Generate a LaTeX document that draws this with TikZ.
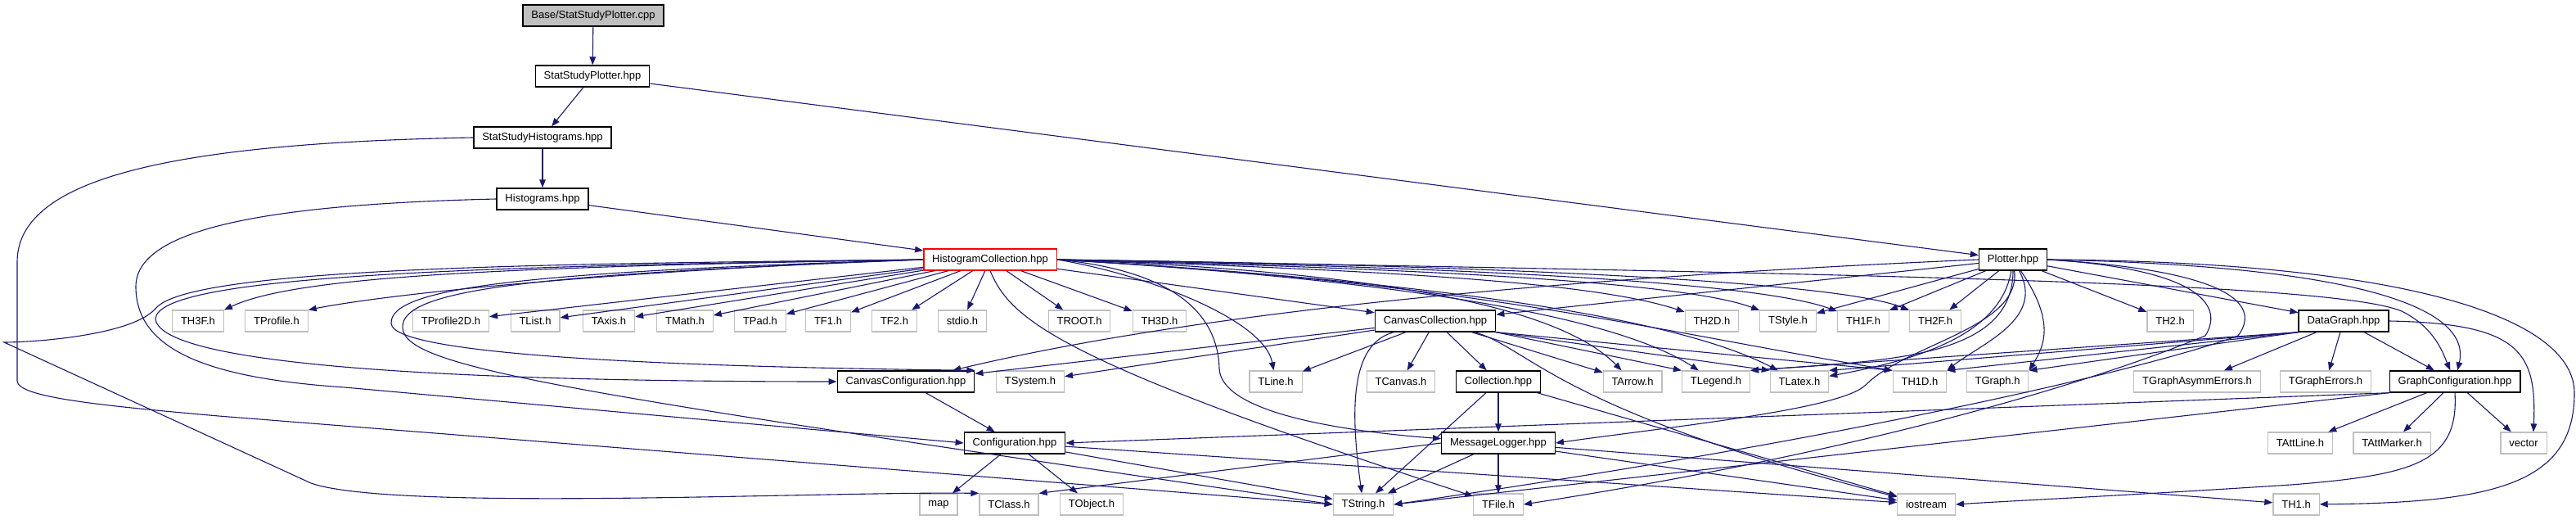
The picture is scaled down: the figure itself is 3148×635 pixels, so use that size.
\documentclass[tikz,border=0pt]{standalone}
\usepackage{fontspec}
\setmainfont{Liberation Sans}
\usepackage{tikz}
\usetikzlibrary{arrows.meta}
\definecolor{inkblue}{HTML}{191970}
\definecolor{boxgray}{HTML}{BFBFBF}
\definecolor{mainred}{HTML}{FF0000}
\tikzset{
  hdr/.style={draw=black,fill=white,line width=0.7pt,inner xsep=5.2pt,inner ysep=0pt,minimum height=13pt,font=\fontsize{6.5}{7.5}\selectfont},
  ext/.style={hdr,draw=boxgray,line width=0.6pt},
  src/.style={hdr,fill=boxgray},
  cur/.style={hdr,draw=mainred},
  inc/.style={inkblue,line width=0.55pt,-{Triangle[length=5pt,width=3.8pt]}}
}
\begin{document}
\begin{tikzpicture}[x=0.5pt,y=-0.5pt]
\useasboundingbox (0,0) rectangle (3148,635);
\node[src] (root) at (725,19) {Base/StatStudyPlotter.cpp};
\node[hdr] (ssplot) at (724,93) {StatStudyPlotter.hpp};
\node[hdr] (sshist) at (663,168) {StatStudyHistograms.hpp};
\node[hdr] (hist) at (663,243) {Histograms.hpp};
\node[cur] (hcoll) at (1210,317) {HistogramCollection.hpp};
\node[hdr] (plotter) at (2460,317) {Plotter.hpp};
\node[ext] (th3f) at (242,392) {TH3F.h}; \node[ext] (tprof) at (338,392) {TProfile.h};
\node[ext] (tprof2d) at (551,392) {TProfile2D.h}; \node[ext] (tlist) at (654,392) {TList.h};
\node[ext] (taxis) at (744,392) {TAxis.h}; \node[ext] (tmath) at (837,392) {TMath.h};
\node[ext] (tpad) at (929,392) {TPad.h}; \node[ext] (tfone) at (1012,392) {TF1.h};
\node[ext] (tftwo) at (1093,392) {TF2.h}; \node[ext] (stdio) at (1176,392) {stdio.h};
\node[ext] (troot) at (1319,392) {TROOT.h}; \node[ext] (th3d) at (1417,392) {TH3D.h};
\node[hdr] (ccoll) at (1754,392) {CanvasCollection.hpp};
\node[ext] (th2d) at (2092,392) {TH2D.h}; \node[ext] (tstyle) at (2185,392) {TStyle.h};
\node[ext] (th1f) at (2277,392) {TH1F.h}; \node[ext] (th2f) at (2365,392) {TH2F.h};
\node[ext] (th2) at (2652,392) {TH2.h};
\node[hdr] (dgraph) at (2864,392) {DataGraph.hpp};
\node[hdr] (cconf) at (1107,466) {CanvasConfiguration.hpp};
\node[ext] (tsys) at (1259,466) {TSystem.h}; \node[ext] (tline) at (1559,466) {TLine.h};
\node[ext] (tcanv) at (1712,466) {TCanvas.h};
\node[hdr] (coll) at (1831,466) {Collection.hpp};
\node[ext] (tarrow) at (1995,466) {TArrow.h}; \node[ext] (tlegend) at (2097,466) {TLegend.h};
\node[ext] (tlatex) at (2199,466) {TLatex.h}; \node[ext] (th1d) at (2346,466) {TH1D.h};
\node[ext] (tgraph) at (2441,466) {TGraph.h}; \node[ext] (tgae) at (2685,466) {TGraphAsymmErrors.h};
\node[ext] (tgerr) at (2842,466) {TGraphErrors.h};
\node[hdr] (gconf) at (3000,466) {GraphConfiguration.hpp};
\node[hdr] (conf) at (1240,541) {Configuration.hpp};
\node[hdr] (msglog) at (1831,541) {MessageLogger.hpp};
\node[ext] (tattl) at (2811,541) {TAttLine.h}; \node[ext] (tattm) at (2923,541) {TAttMarker.h};
\node[ext] (vector) at (3084,541) {vector};
\node[ext] (map) at (1147,616) {map}; \node[ext] (tclass) at (1233,616) {TClass.h};
\node[ext] (tobj) at (1334,616) {TObject.h}; \node[ext] (tstr) at (1666,616) {TString.h};
\node[ext] (tfile) at (1831,616) {TFile.h}; \node[ext] (iostr) at (2354,616) {iostream};
\node[ext] (th1) at (2806,616) {TH1.h};
\draw[inc] (root) -- (ssplot); \draw[inc] (ssplot) -- (sshist); \draw[inc] (ssplot) -- (plotter);
\draw[inc] (sshist) -- (hist); \draw[inc] (hist) -- (hcoll);
\draw[inc] (sshist.west) .. controls (200,175) and (21,220) .. (21,320) -- (21,465) .. controls (21,485) and (120,495) .. (267,508) -- (tstr.west);
\draw[inc] (hist.west) .. controls (300,250) and (166,285) .. (166,350) .. controls (166,430) and (260,462) .. (421,473) -- (conf.west);
\draw[inc] (hcoll.west) .. controls (600,326) and (360,338) .. (th3f.north east);
\draw[inc] (hcoll.west) .. controls (760,330) and (480,358) .. (tprof.north east);
\draw[inc] (hcoll) -- (tprof2d); \draw[inc] (hcoll) -- (tlist); \draw[inc] (hcoll) -- (taxis);
\draw[inc] (hcoll) -- (tmath); \draw[inc] (hcoll) -- (tpad); \draw[inc] (hcoll) -- (tfone);
\draw[inc] (hcoll) -- (tftwo); \draw[inc] (hcoll) -- (stdio); \draw[inc] (hcoll) -- (troot);
\draw[inc] (hcoll) -- (th3d); \draw[inc] (hcoll) -- (ccoll);
\draw[inc] (hcoll.west) .. controls (600,325) and (190,335) .. (190,390) .. controls (200,450) and (600,466) .. (cconf.west);
\draw[inc] (hcoll.west) .. controls (700,322) and (230,325) .. (190,377) .. controls (160,410) and (40,418) .. (5,418) -- (380,590) .. controls (480,625) and (1000,600) .. (tclass.north west);
\draw[inc] (hcoll.west) .. controls (650,332) and (476,350) .. (478,395) .. controls (480,438) and (900,449) .. (cconf.north east);
\draw[inc] (hcoll.west) .. controls (660,335) and (490,352) .. (492,400) .. controls (494,450) and (700,480) .. (tstr.west);
\draw[inc] (hcoll.east) .. controls (1700,330) and (1950,345) .. (th2d);
\draw[inc] (hcoll.east) .. controls (1750,328) and (2060,345) .. (tstyle);
\draw[inc] (hcoll.east) .. controls (1800,326) and (2150,345) .. (th1f);
\draw[inc] (hcoll.east) .. controls (1850,324) and (2250,345) .. (th2f);
\draw[inc] (hcoll.east) .. controls (1400,335) and (1545,390) .. (tline);
\draw[inc] (hcoll.east) .. controls (1430,330) and (1488,380) .. (1490,450) .. controls (1492,500) and (1620,525) .. (msglog);
\draw[inc] (hcoll.south) .. controls (1235,390) and (1290,440) .. (tfile);
\draw[inc] (hcoll.east) .. controls (1800,335) and (1930,400) .. (tarrow);
\draw[inc] (hcoll.east) .. controls (1850,350) and (2010,410) .. (tlegend);
\draw[inc] (hcoll.east) .. controls (1950,355) and (2110,420) .. (tlatex);
\draw[inc] (hcoll.east) .. controls (1800,345) and (2000,400) .. (th1d.north west);
\draw[inc] (hcoll.east) .. controls (2300,335) and (2850,345) .. (2935,380) .. controls (2975,400) and (2985,430) .. (gconf);
\draw[inc] (ccoll) -- (cconf); \draw[inc] (ccoll) -- (tsys); \draw[inc] (ccoll) -- (tline);
\draw[inc] (ccoll) -- (tcanv); \draw[inc] (ccoll) -- (coll); \draw[inc] (ccoll) -- (tarrow);
\draw[inc] (ccoll.south east) -- (tlegend.north west); \draw[inc] (ccoll.south east) -- (tlatex.north west);
\draw[inc] (ccoll.south east) -- (th1d.north west);
\draw[inc] (ccoll) .. controls (1650,420) and (1650,500) .. (tstr);
\draw[inc] (ccoll) .. controls (1870,425) and (1900,500) .. (iostr);
\draw[inc] (plotter) -- (th2f); \draw[inc] (plotter) -- (th1f); \draw[inc] (plotter) -- (tstyle);
\draw[inc] (plotter) -- (ccoll); \draw[inc] (plotter) -- (th2); \draw[inc] (plotter) -- (dgraph);
\draw[inc] (plotter.west) .. controls (2000,335) and (1500,372) .. (cconf);
\draw[inc] (plotter) .. controls (2445,410) and (2340,440) .. (tlatex);
\draw[inc] (plotter) .. controls (2460,440) and (2300,440) .. (tlegend.north east);
\draw[inc] (plotter) .. controls (2470,400) and (2330,420) .. (2280,470) .. controls (2250,500) and (2050,520) .. (msglog.east);
\draw[inc] (plotter) .. controls (2500,390) and (2420,420) .. (th1d.north east);
\draw[inc] (plotter) .. controls (2510,390) and (2500,420) .. (tgraph.north east);
\draw[inc] (plotter.east) .. controls (2720,330) and (2765,370) .. (2735,410) .. controls (2640,445) and (2300,530) .. (tstr.east);
\draw[inc] (plotter.east) .. controls (2680,328) and (2720,370) .. (2695,410) .. controls (2610,445) and (2350,540) .. (tfile.east);
\draw[inc] (plotter.east) .. controls (2900,325) and (3020,380) .. (gconf);
\draw[inc] (plotter.east) .. controls (2950,320) and (3146,390) .. (3146,480) .. controls (3146,590) and (3050,614) .. (th1);
\draw[inc] (dgraph) -- (tgae); \draw[inc] (dgraph) -- (tgerr); \draw[inc] (dgraph) -- (gconf);
\draw[inc] (dgraph.south west) -- (tlegend.north east); \draw[inc] (dgraph.south west) -- (tlatex.north east);
\draw[inc] (dgraph.south west) -- (th1d.north east); \draw[inc] (dgraph.south west) -- (tgraph.north east);
\draw[inc] (dgraph.east) .. controls (3080,395) and (3100,430) .. ([xshift=6pt]vector.north);
\draw[inc] (coll) -- (msglog); \draw[inc] (coll) -- (tstr); \draw[inc] (coll) -- (iostr);
\draw[inc] (cconf) -- (conf);
\draw[inc] (conf) -- (map); \draw[inc] (conf) -- (tobj); \draw[inc] (conf) -- (tstr); \draw[inc] (conf) -- (iostr);
\draw[inc] (msglog.west) -- (tclass.north east); \draw[inc] (msglog) -- (tstr); \draw[inc] (msglog) -- (tfile);
\draw[inc] (msglog) -- (iostr); \draw[inc] (msglog) -- (th1);
\draw[inc] (gconf) -- (tattl); \draw[inc] (gconf) -- (tattm); \draw[inc] (gconf) -- (vector);
\draw[inc] (gconf.south west) -- (conf.east); \draw[inc] (gconf.south west) -- (tstr.east);
\draw[inc] (gconf.south) .. controls (3005,565) and (2950,580) .. (2800,592) .. controls (2600,605) and (2450,612) .. (iostr.east);
\end{tikzpicture}
\end{document}
